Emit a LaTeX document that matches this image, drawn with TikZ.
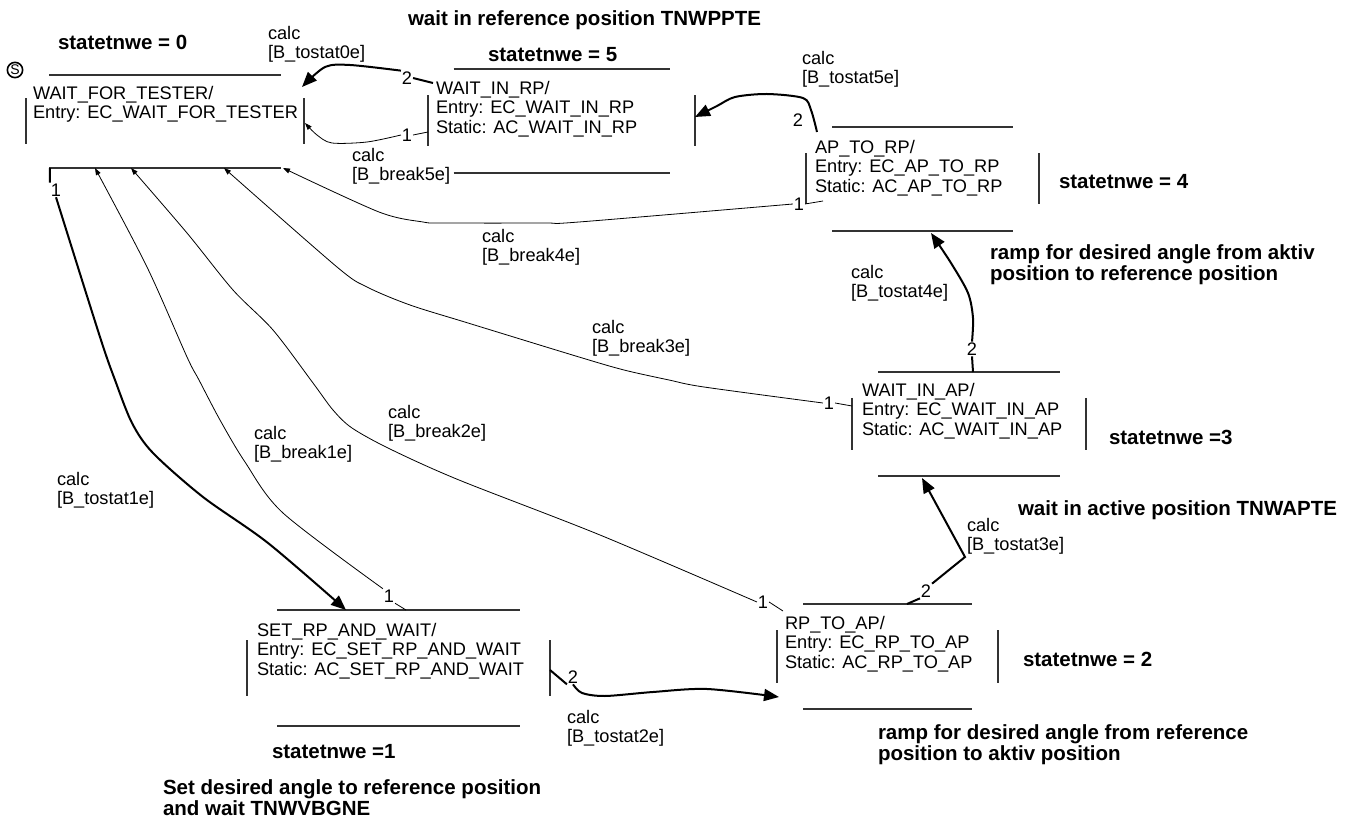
\documentclass[tikz,border=0pt]{standalone}
\usepackage{fontspec}
\setmainfont{Liberation Sans}
\usepackage{tikz}
\usetikzlibrary{arrows.meta}
\newcommand{\regfont}{\fontsize{18.2}{19.5}\selectfont}
\newcommand{\boldfont}{\bfseries\fontsize{20.5}{21}\selectfont}
% open state frame: left, top, right, bottom, h-inset, v-inset
\newcommand{\brokenbox}[6]{%
  \draw[boxline] ({#1+#5},#2) -- ({#3-#5},#2);
  \draw[boxline] ({#1+#5},#4) -- ({#3-#5},#4);
  \draw[boxline] (#1,{#2+#6}) -- (#1,{#4-#6});
  \draw[boxline] (#3,{#2+#6}) -- (#3,{#4-#6});}

\begin{document}
\begin{tikzpicture}[x=1pt,y=-1pt,
    every node/.style={inner sep=0pt,outer sep=0pt},
    txt/.style={font=\regfont,align=left,anchor=north west},
    note/.style={font=\boldfont,align=left,anchor=north west},
    num/.style={font=\regfont,inner sep=1pt},
    boxline/.style={line width=1.2pt,black!80},
    weak/.style={line width=0.8pt},
    strong/.style={line width=2pt},
    weakarr/.style={weak,-{Triangle[length=7pt,width=5pt]}},
    strongarr/.style={strong,-{Triangle[length=15pt,width=12pt]}}]
  \useasboundingbox (0,0) rectangle (1353,818);
  % initial marker
  \node[draw,circle,line width=1.6pt,inner sep=0.6pt,minimum size=15pt,font=\fontsize{14}{14}\selectfont] (init) at (15,70) {S};
  % states
  \brokenbox{26}{75}{304}{168}{23}{23.5}
  \node[txt] (wft) at (33,86) {WAIT\_FOR\_TESTER/\\Entry: EC\_WAIT\_FOR\_TESTER};
  \brokenbox{428}{69}{695}{173}{25.5}{26.5}
  \node[txt] (wirp) at (436,81) {WAIT\_IN\_RP/\\Entry: EC\_WAIT\_IN\_RP\\Static: AC\_WAIT\_IN\_RP};
  \brokenbox{806}{127}{1039}{231}{26}{26.5}
  \node[txt] (aptorp) at (815,140) {AP\_TO\_RP/\\Entry: EC\_AP\_TO\_RP\\Static: AC\_AP\_TO\_RP};
  \brokenbox{852}{372}{1086}{476}{26}{26}
  \node[txt] (wiap) at (862,383) {WAIT\_IN\_AP/\\Entry: EC\_WAIT\_IN\_AP\\Static: AC\_WAIT\_IN\_AP};
  \brokenbox{777}{604}{998}{709}{26}{26}
  \node[txt] (rptoap) at (785,616) {RP\_TO\_AP/\\Entry: EC\_RP\_TO\_AP\\Static: AC\_RP\_TO\_AP};
  \brokenbox{247}{610}{550}{726}{30}{30}
  \node[txt] (setrp) at (257,623) {SET\_RP\_AND\_WAIT/\\Entry: EC\_SET\_RP\_AND\_WAIT\\Static: AC\_SET\_RP\_AND\_WAIT};
  % state numbers and notes
  \node[note] (st0) at (58,35.5) {statetnwe = 0};
  \node[note] (st5) at (488,47.5) {statetnwe = 5};
  \node[note] (st4) at (1059,174.5) {statetnwe = 4};
  \node[note] (st3) at (1109,430.5) {statetnwe =3};
  \node[note] (st2) at (1023,652.5) {statetnwe = 2};
  \node[note] (st1) at (272,744.5) {statetnwe =1};
  \node[note] (nt5) at (408,10.5) {wait in reference position TNWPPTE};
  \node[note] (nt4) at (990,244.5) {ramp for desired angle from aktiv\\position to reference position};
  \node[note] (nt3) at (1018,500.5) {wait in active position TNWAPTE};
  \node[note] (nt2) at (878,724.5) {ramp for desired angle from reference\\position to aktiv position};
  \node[note] (nt1) at (163,779.5) {Set desired angle to reference position\\and wait TNWVBGNE};
  % guards
  \node[txt] (g50) at (268,26) {calc\\{[}B\_tostat0e{]}};
  \node[txt] (g5b) at (352,148) {calc\\{[}B\_break5e{]}};
  \node[txt] (g45) at (802,51) {calc\\{[}B\_tostat5e{]}};
  \node[txt] (g4b) at (482,229) {calc\\{[}B\_break4e{]}};
  \node[txt] (g34) at (851,265) {calc\\{[}B\_tostat4e{]}};
  \node[txt] (g3b) at (592,320) {calc\\{[}B\_break3e{]}};
  \node[txt] (g2b) at (388,405) {calc\\{[}B\_break2e{]}};
  \node[txt] (g1b) at (254,426) {calc\\{[}B\_break1e{]}};
  \node[txt] (g01) at (57,472) {calc\\{[}B\_tostat1e{]}};
  \node[txt] (g23) at (967,518) {calc\\{[}B\_tostat3e{]}};
  \node[txt] (g12) at (567,710) {calc\\{[}B\_tostat2e{]}};
  % 5 -> 0
  \coordinate (o5a) at (433,83);
  \coordinate (i0a) at (302,87);
  \node[num] (p5a) at (407,78) {2};
  \draw[strong] (o5a) -- (p5a.east);
  \draw[strongarr] plot[smooth] coordinates {(p5a.north west) (350,65) (325,67) (i0a)};
  \coordinate (o5b) at (428,132);
  \coordinate (i0b) at (305,123);
  \node[num] (p5b) at (407,135) {1};
  \draw[weak] (o5b) -- (p5b.east);
  \draw[weakarr] plot[smooth] coordinates {(p5b.west) (367,142) (332,143) (317,135) (i0b)};
  % 4 -> 5, 4 -> 0
  \coordinate (o4a) at (817,132);
  \coordinate (i5a) at (695,117);
  \node[num] (p4a) at (798,120) {2};
  \draw[strongarr] plot[smooth,tension=0.5] coordinates {(o4a) (811,110) (803,98) (767,94) (735,97) (717,106) (i5a)};
  \coordinate (o4b) at (823,201);
  \coordinate (i0c) at (283,168);
  \node[num] (p4b) at (799,204) {1};
  \draw[weak] (o4b) -- (p4b.east);
  \draw[weakarr] plot[smooth] coordinates {(p4b.west) (579,222) (544,223) (443,223) (423,222) (379,212) (i0c)};
  % 3 -> 4, 3 -> 0
  \coordinate (o3a) at (973,372);
  \coordinate (i4a) at (931,233);
  \node[num] (p3a) at (972,349) {2};
  \draw[strong] (o3a) -- (p3a.south);
  \draw[strongarr] plot[smooth] coordinates {(p3a.north) (973,318) (968,293) (951,263) (i4a)};
  \coordinate (o3b) at (852,406);
  \coordinate (i0d) at (224,168);
  \node[num] (p3b) at (829,403) {1};
  \draw[weak] (o3b) -- (p3b.east);
  \draw[weakarr] plot[smooth] coordinates {(p3b.west) (704,387) (669,380) (624,370) (579,357) (468,323) (410,305) (367,287) (337,267) (i0d)};
  % 2 -> 0, 2 -> 3
  \coordinate (o2a) at (783,611);
  \coordinate (i0e) at (131,168);
  \node[num] (p2a) at (763,602) {1};
  \draw[weak] (o2a) -- (p2a.east);
  \draw[weakarr] plot[smooth] coordinates {(p2a.west) (600,535) (459,480) (390,449) (352,428) (333,410) (313,383) (273,330) (233,290) (187,233) (i0e)};
  \coordinate (o2b) at (907,604);
  \coordinate (i3a) at (922,478);
  \node[num] (p2b) at (926,591) {2};
  \draw[strong] (o2b) -- (p2b.south west);
  \draw[strongarr] (p2b.north east) -- (965,557) -- (i3a);
  % 1 -> 0, 1 -> 2
  \coordinate (o1a) at (406,610);
  \coordinate (i0f) at (95,168);
  \node[num] (p1a) at (389,596) {1};
  \draw[weak] (o1a) -- (p1a.south east);
  \draw[weakarr] plot[smooth] coordinates {(p1a.north west) (283,513) (245,462) (220,420) (199,380) (187,357) (147,267) (i0f)};
  \coordinate (o1b) at (550,670);
  \coordinate (i2a) at (779,697);
  \node[num] (p1b) at (573,677) {2};
  \draw[strong] (o1b) -- (p1b.south west);
  \draw[strongarr] plot[smooth] coordinates {(p1b.south) (582,693) (605,696) (653,692) (707,689) (i2a)};
  % 0 -> 1
  \coordinate (o0a) at (50,168);
  \coordinate (i1a) at (346,610);
  \node[num] (p0a) at (56,190) {1};
  \draw[strong] (o0a) -- (p0a.north west);
  \draw[strongarr] plot[smooth] coordinates {(p0a.south) (100,337) (115,380) (132,423) (153,453) (203,497) (268,543) (i1a)};
\end{tikzpicture}
\end{document}
